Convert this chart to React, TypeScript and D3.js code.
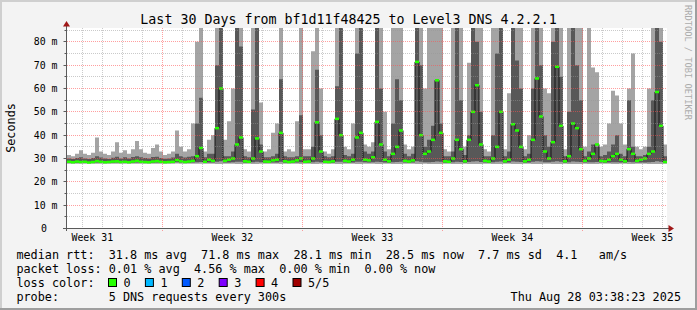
import React from 'react';
import * as d3 from 'd3';

const W = 697;
const H = 310;
const START = Date.UTC(2025, 6, 29, 3, 38, 23);
const END = Date.UTC(2025, 7, 28, 3, 38, 23);
const DAY = 86400000;
const BUCKET = 0.2 * DAY;

// highest ping (light smoke top), ms
const pingHi = [
  31.5, 31.0, 32.0, 33.5, 32.0, 31.5, 32.5, 39.0, 33.0, 32.0,
  31.5, 33.0, 37.0, 32.5, 33.5, 32.0, 34.0, 37.5, 34.0, 32.5,
  32.0, 34.5, 36.0, 33.0, 31.5, 32.0, 33.0, 42.0, 35.0, 33.0,
  34.0, 45.0, 80.0, 86, 33, 38, 40, 86, 86, 38,
  46, 60, 86, 86, 34, 33, 86, 86, 54, 33,
  34, 41, 45, 86, 33, 34, 33, 46, 86, 34,
  34, 76, 86, 60, 33, 32, 34, 86, 86, 35,
  34, 45, 86, 86, 36, 35, 37, 86, 86, 50,
  34, 86, 86, 86, 36, 34, 35, 86, 86, 60,
  86, 86, 86, 86, 34, 33, 86, 86, 86, 35,
  71, 86, 86, 86, 34, 33, 86, 86, 86, 34,
  58, 86, 86, 86, 34, 40, 86, 86, 86, 60,
  58, 86, 86, 86, 34, 86, 86, 86, 86, 35,
  86, 69, 67, 35, 36, 45, 59, 57, 45, 36,
  60, 75, 35, 34, 35, 60, 86, 86, 86, 36,
];
// 4th ping (dark smoke top), ms
const pingP4 = [
  30.0, 29.8, 30.2, 30.5, 30.0, 29.8, 30.2, 31.0, 30.4, 30.0,
  29.8, 30.3, 30.8, 30.0, 30.5, 30.0, 30.6, 31.0, 30.5, 30.2,
  30.0, 30.6, 30.8, 30.2, 29.9, 30.0, 30.4, 32.0, 31.0, 30.4,
  30.8, 31, 45, 56, 30.5, 32, 32, 70, 86, 31,
  31, 33, 86, 78, 31, 30.5, 51, 86, 36, 30.5,
  30.5, 31, 32, 64, 31, 30.5, 30.5, 31, 48.5, 31,
  31, 35, 68, 40, 31, 30.5, 31, 61, 86, 31.5,
  31, 32, 75, 86, 33, 32, 33, 86, 60, 33,
  31, 45, 64, 55, 32, 31, 32, 86, 70, 35,
  38, 44, 64, 45, 31, 31, 33, 86, 55, 31.5,
  40, 86, 80, 50, 31, 31, 40, 75, 86, 31,
  33, 86, 72, 60, 31, 32, 60, 86, 70, 40,
  35, 80, 86, 65, 31, 50, 86, 70, 55, 31,
  33, 36, 35, 31, 31.5, 33, 36, 40, 32, 31,
  55, 35, 31, 31, 31.5, 35, 55, 86, 80, 31,
];
// median rtt, ms
const pingMed = [
  28.6, 28.4, 28.7, 28.5, 28.6, 28.3, 28.5, 28.9, 28.6, 28.4,
  28.5, 28.7, 28.8, 28.5, 28.6, 28.4, 28.7, 29.0, 28.6, 28.5,
  28.4, 28.7, 28.9, 28.6, 28.4, 28.5, 28.6, 29.3, 28.8, 28.5,
  28.7, 29.0, 31, 34.5, 28.6, 29.5, 29.0, 43, 60, 29.0,
  29.5, 30, 36, 39, 28.8, 28.6, 30, 38.6, 33, 28.7,
  28.6, 29.2, 29.5, 41, 28.8, 28.5, 28.7, 29.2, 30, 28.6,
  28.7, 30, 45.5, 33, 28.6, 28.5, 28.8, 47, 40, 29,
  28.7, 29.5, 39, 41, 29.5, 29.2, 30.5, 45.7, 36, 29.5,
  28.8, 32, 35, 42, 29, 28.7, 29.2, 71.4, 40, 32,
  33, 38, 63.5, 41, 28.8, 28.6, 30, 38, 34, 28.8,
  38, 50, 61.4, 36, 29, 28.7, 30, 35, 50, 28.8,
  29.5, 44.7, 42, 35, 28.8, 29.5, 38, 64.3, 48, 33,
  30, 37, 69.3, 44, 28.8, 31, 45, 43, 34, 29,
  30, 32, 36, 29, 28.8, 29.5, 31, 32, 29.5, 28.8,
  34, 32, 29, 29.5, 30, 32, 33, 58.5, 44, 28.5,
];
// 2nd ping (dark smoke bottom), ms
const pingP2 = [
  28.2, 28.1, 28.2, 28.2, 28.2, 28.1, 28.2, 28.3, 28.2, 28.1,
  28.2, 28.2, 28.3, 28.2, 28.2, 28.1, 28.2, 28.3, 28.2, 28.2,
  28.1, 28.2, 28.3, 28.2, 28.1, 28.2, 28.2, 28.4, 28.3, 28.2,
  28.2, 28.3, 28.4, 28.5, 28.2, 28.3, 28.3, 28.6, 28.8, 28.3,
  28.3, 28.4, 28.6, 28.6, 28.2, 28.2, 28.4, 28.6, 28.4, 28.2,
  28.2, 28.3, 28.3, 28.6, 28.2, 28.2, 28.2, 28.3, 28.4, 28.2,
  28.2, 28.4, 28.6, 28.4, 28.2, 28.2, 28.2, 28.6, 28.6, 28.3,
  28.2, 28.3, 28.6, 28.6, 28.4, 28.3, 28.4, 28.6, 28.5, 28.3,
  28.2, 28.4, 28.5, 28.6, 28.3, 28.2, 28.3, 28.8, 28.6, 28.4,
  28.4, 28.5, 28.7, 28.6, 28.2, 28.2, 28.4, 28.6, 28.5, 28.2,
  28.5, 28.7, 28.8, 28.5, 28.3, 28.2, 28.4, 28.6, 28.7, 28.2,
  28.3, 28.7, 28.6, 28.5, 28.2, 28.3, 28.6, 28.8, 28.7, 28.4,
  28.4, 28.6, 28.8, 28.6, 28.2, 28.4, 28.7, 28.6, 28.5, 28.3,
  28.4, 28.4, 28.5, 28.3, 28.2, 28.3, 28.4, 28.4, 28.3, 28.2,
  28.5, 28.4, 28.3, 28.3, 28.3, 28.4, 28.5, 28.8, 28.6, 28.2,
];
// lowest ping (light smoke bottom), ms
const pingLo = [
  27.8, 27.7, 27.8, 27.8, 27.8, 27.7, 27.8, 27.8, 27.8, 27.7,
  27.8, 27.8, 27.8, 27.8, 27.8, 27.7, 27.8, 27.8, 27.8, 27.8,
  27.7, 27.8, 27.8, 27.8, 27.7, 27.8, 27.8, 27.9, 27.8, 27.8,
  27.8, 27.8, 27.7, 27.7, 27.7, 27.7, 27.7, 27.6, 27.6, 27.7,
  27.7, 27.7, 27.6, 27.6, 27.7, 27.7, 27.6, 27.6, 27.7, 27.7,
  27.7, 27.7, 27.7, 27.6, 27.7, 27.7, 27.7, 27.7, 27.6, 27.7,
  27.7, 27.6, 27.6, 27.7, 27.7, 27.7, 27.7, 27.6, 27.6, 27.7,
  27.7, 27.7, 27.6, 27.6, 27.7, 27.7, 27.7, 27.6, 27.6, 27.7,
  27.7, 27.6, 27.6, 27.6, 27.7, 27.7, 27.7, 27.6, 27.6, 27.7,
  27.6, 27.6, 27.6, 27.6, 27.7, 27.7, 27.6, 27.6, 27.6, 27.7,
  27.6, 27.6, 27.6, 27.6, 27.7, 27.7, 27.6, 27.6, 27.6, 27.7,
  27.7, 27.6, 27.6, 27.6, 27.7, 27.7, 27.6, 27.6, 27.6, 27.7,
  27.7, 27.6, 27.6, 27.6, 27.7, 27.6, 27.6, 27.6, 27.6, 27.7,
  27.6, 27.6, 27.6, 27.7, 27.7, 27.7, 27.6, 27.6, 27.7, 27.7,
  27.6, 27.6, 27.7, 27.7, 27.7, 27.6, 27.6, 27.6, 27.6, 27.7,
];

const yTickValues = [0, 10, 20, 30, 40, 50, 60, 70, 80];
const yTickLabels = ['0', '10 m', '20 m', '30 m', '40 m', '50 m', '60 m', '70 m', '80 m'];
const yMinorValues = [5, 15, 25, 35, 45, 55, 65, 75, 85];
const weekLabels = ['Week 31', 'Week 32', 'Week 33', 'Week 34', 'Week 35'];
const weekLabelTimes = [
  Date.UTC(2025, 6, 30, 10), Date.UTC(2025, 7, 6, 10), Date.UTC(2025, 7, 13, 10),
  Date.UTC(2025, 7, 20, 10), Date.UTC(2025, 7, 27, 10),
];

const titleText = 'Last 30 Days from bf1d11f48425 to Level3 DNS 4.2.2.1';
const legendRtt = 'median rtt:  31.8 ms avg  71.8 ms max  28.1 ms min  28.5 ms now  7.7 ms sd  4.1   am/s';
const legendLoss = 'packet loss: 0.01 % avg  4.56 % max  0.00 % min  0.00 % now';
const lossLabels = ['0', '1', '2', '3', '4', '5/5'];
const lossColors = ['#26ff00', '#00b8ff', '#0059ff', '#7e00ff', '#ff0000', '#a00000'];
const probeText = '5 DNS requests every 300s';
const dateText = 'Thu Aug 28 03:38:23 2025';

const MONO = '"DejaVu Sans Mono", "Liberation Mono", monospace';

export default function App() {
  const x = d3.scaleUtc().domain([new Date(START), new Date(END)]).range([67, 667]);
  const y = d3.scaleLinear().domain([0, 85.71]).range([228.5, 28.5]);
  const n = pingMed.length;
  const idx = d3.range(n + 1);
  const bx = (i: number) => x(new Date(START + i * BUCKET));
  const v = (arr: number[], i: number) => arr[Math.min(i, n - 1)];

  const areaOuter = d3.area<number>().x(bx).y0((i) => y(v(pingLo, i))).y1((i) => y(v(pingHi, i))).curve(d3.curveStepAfter);
  const areaInner = d3.area<number>().x(bx).y0((i) => y(v(pingP2, i))).y1((i) => y(v(pingP4, i))).curve(d3.curveStepAfter);
  const medLine = d3.line<number>().x(bx).y((i) => y(v(pingMed, i))).curve(d3.curveStepAfter);

  const hours = d3.utcHour.range(new Date(START), new Date(END)).filter((d) => d.getUTCHours() === 22);
  const majorDays = hours.filter((d) => d.getUTCDay() === 6);
  const minorDays = hours.filter((d) => d.getUTCDay() !== 6);
  const snap = (p: number) => Math.round(p - 0.5) + 0.5;

  const minorGrid = 'rgba(150,150,150,0.5)';
  const majorGrid = 'rgba(255,80,80,0.55)';
  const axisCol = '#5a5a5a';

  return (
    <div style={{ position: 'absolute', left: 0, top: 0 }}>
      <svg width={W} height={H} style={{ display: 'block' }} fontFamily={MONO}>
        <defs>
          <clipPath id="plotclip">
            <rect x={67} y={28} width={600} height={200.5} />
          </clipPath>
        </defs>
        <rect x={0} y={0} width={W} height={H} fill="#f3f3f3" />
        <rect x={0} y={0} width={W} height={2} fill="#cfcfcf" />
        <rect x={0} y={0} width={2} height={H} fill="#cfcfcf" />
        <rect x={0} y={H - 2} width={W} height={2} fill="#9e9e9e" />
        <rect x={W - 2} y={0} width={2} height={H} fill="#9e9e9e" />

        <rect x={67} y={28} width={600} height={200} fill="#ffffff" />

        <g clipPath="url(#plotclip)">
          <path d={areaOuter(idx) || ''} fill="#a4a4a4" />
          <path d={areaInner(idx) || ''} fill="#585858" />
          <path d={medLine(idx) || ''} fill="none" stroke="#141414" strokeWidth={1} />
          {pingMed.map((m, i) => (
            <rect key={i} x={bx(i)} y={y(m) - 1.25} width={bx(i + 1) - bx(i)} height={2.5} fill={lossColors[0]} />
          ))}
        </g>

        {/* grid */}
        {yMinorValues.map((val) => (
          <line key={'hm' + val} x1={67} x2={667} y1={snap(y(val))} y2={snap(y(val))} stroke={minorGrid} strokeDasharray="1,1" />
        ))}
        {yTickValues.filter((val) => val > 0).map((val) => (
          <line key={'hM' + val} x1={67} x2={667} y1={snap(y(val))} y2={snap(y(val))} stroke={majorGrid} strokeDasharray="1,1" />
        ))}
        {minorDays.map((d) => (
          <line key={'vm' + d.getTime()} x1={snap(x(d))} x2={snap(x(d))} y1={28} y2={230} stroke={minorGrid} strokeDasharray="1,1" />
        ))}
        {majorDays.map((d) => (
          <line key={'vM' + d.getTime()} x1={snap(x(d))} x2={snap(x(d))} y1={28} y2={231} stroke={majorGrid} strokeDasharray="1,1" />
        ))}

        {/* axes */}
        <line x1={63} x2={670} y1={228.5} y2={228.5} stroke={axisCol} />
        <line x1={66.5} x2={66.5} y1={231} y2={25} stroke={axisCol} />
        {yTickValues.map((val) => (
          <line key={'yt' + val} x1={63.5} x2={66.5} y1={snap(y(val))} y2={snap(y(val))} stroke={axisCol} />
        ))}
        {yMinorValues.map((val) => (
          <line key={'ytm' + val} x1={64.5} x2={66.5} y1={snap(y(val))} y2={snap(y(val))} stroke={axisCol} />
        ))}
        <polygon points="63,26.5 70,26.5 66.5,21" fill="#a01818" />
        <polygon points="668.5,225 668.5,232 674,228.5" fill="#a01818" />

        {/* y labels */}
        {yTickValues.map((val, i) => (
          <text key={'yl' + val} x={i === 0 ? 47 : 57.5} y={y(val)} dy="0.36em" textAnchor="end" fontSize={9.9} fill="#000">
            {yTickLabels[i]}
          </text>
        ))}
        {/* x labels */}
        {weekLabelTimes.map((t, i) => (
          <text key={'xl' + i} x={x(new Date(t))} y={241} textAnchor="middle" fontSize={9.9} fill="#000">
            {weekLabels[i]}
          </text>
        ))}

        {/* title */}
        <text x={348.5} y={24} textAnchor="middle" fontSize={13.3} fill="#000">{titleText}</text>
        {/* y axis title */}
        <text transform="translate(15,128) rotate(-90)" textAnchor="middle" fontSize={11.8} fill="#000">Seconds</text>
        {/* watermark */}
        <text transform="translate(685,5) rotate(90)" fontSize={8.7} fill="#ababab">RRDTOOL / TOBI OETIKER</text>

        {/* legend */}
        <text x={16.4} y={258.5} fontSize={11.8} fill="#000" style={{ whiteSpace: 'pre' }}>{legendRtt}</text>
        <text x={16.4} y={272.5} fontSize={11.8} fill="#000" style={{ whiteSpace: 'pre' }}>{legendLoss}</text>
        <text x={16.4} y={286.5} fontSize={11.8} fill="#000">loss color:</text>
        {lossLabels.map((lab, i) => (
          <g key={'lc' + i}>
            <rect x={108.5 + i * 36.9} y={278.5} width={8} height={8} fill={lossColors[i]} stroke="#000" strokeWidth={1} />
            <text x={123.5 + i * 36.9} y={286.5} fontSize={11.8} fill="#000">{lab}</text>
          </g>
        ))}
        <text x={16.4} y={300.5} fontSize={11.8} fill="#000">probe:</text>
        <text x={108.7} y={300.5} fontSize={11.8} fill="#000">{probeText}</text>
        <text x={681} y={300.5} textAnchor="end" fontSize={11.8} fill="#000">{dateText}</text>
      </svg>
    </div>
  );
}
